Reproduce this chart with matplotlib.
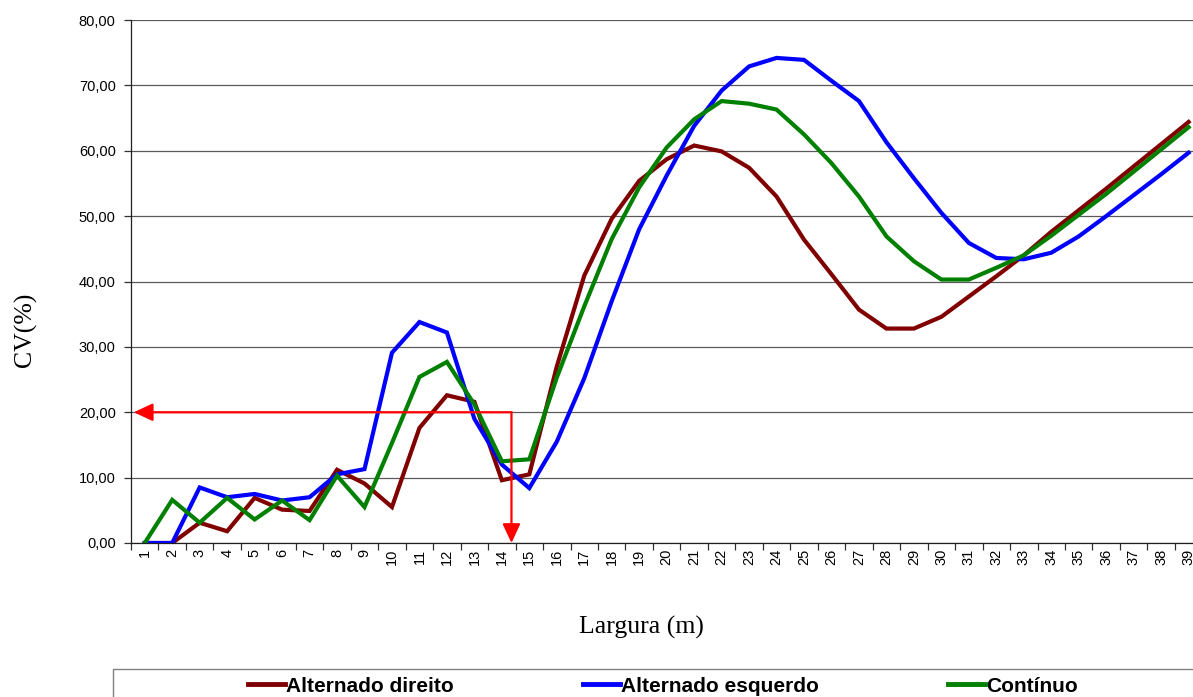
import matplotlib
matplotlib.use("Agg")
import matplotlib.pyplot as plt
from matplotlib.patches import Rectangle
from matplotlib.ticker import FuncFormatter, FixedLocator, NullFormatter

# ---- data ----
largura = list(range(1, 40))
alternado_direito = [0, 0, 3.1, 1.8, 6.9, 5.1, 4.9, 11.2, 9.1, 5.5,
                     17.6, 22.6, 21.6, 9.6, 10.5, 27.0, 40.9, 49.6, 55.4, 58.7,
                     60.8, 59.9, 57.4, 53.0, 46.4, 41.1, 35.7, 32.8, 32.8, 34.6,
                     37.7, 40.8, 44.0, 47.6, 50.9, 54.2, 57.6, 61.0, 64.4]
alternado_esquerdo = [0, 0, 8.5, 7.0, 7.5, 6.5, 7.0, 10.5, 11.3, 29.1,
                      33.8, 32.2, 19.0, 12.0, 8.4, 15.5, 25.2, 37.0, 48.0, 56.2,
                      63.8, 69.2, 72.9, 74.2, 73.9, 70.7, 67.6, 61.3, 55.8, 50.5,
                      45.9, 43.6, 43.4, 44.4, 46.9, 50.0, 53.2, 56.4, 59.7]
continuo = [0, 6.6, 3.1, 6.9, 3.6, 6.5, 3.5, 10.3, 5.5, 15.3,
            25.4, 27.7, 21.2, 12.5, 12.8, 25.3, 36.2, 46.5, 54.4, 60.5,
            64.8, 67.6, 67.2, 66.3, 62.5, 58.1, 53.0, 46.9, 43.1, 40.3,
            40.3, 42.1, 44.0, 47.0, 50.2, 53.4, 56.8, 60.2, 63.6]
series_names = ["Alternado direito", "Alternado esquerdo", "Contínuo"]
series_colors = ["#800000", "#0000FF", "#008000"]
y_ticks = [0, 10, 20, 30, 40, 50, 60, 70, 80]
threshold_cv = 20
threshold_x = 14.35

W, H = 1193, 697
fig = plt.figure(figsize=(W / 100, H / 100), dpi=100)

def fx(px):
    return px / W

def fy(py):
    return 1 - py / H

ax_left, ax_top, ax_bottom = 131, 20, 543
cat_w = 27.47
ax_right = ax_left + cat_w * len(largura)
ax = fig.add_axes([fx(ax_left), fy(ax_bottom), (ax_right - ax_left) / W, (ax_bottom - ax_top) / H])

for vals, name, col in zip([alternado_direito, alternado_esquerdo, continuo], series_names, series_colors):
    ax.plot(largura, vals, color=col, lw=3.0, label=name, solid_joinstyle="miter", zorder=3)

ax.set_xlim(0.5, len(largura) + 0.5)
ax.set_ylim(0, 80)

# gridlines
ax.set_yticks(y_ticks)
ax.yaxis.grid(True, color="#5a5a5a", lw=0.9)
ax.set_axisbelow(True)
ax.yaxis.set_major_formatter(FuncFormatter(lambda v, p: f"{v:.2f}".replace(".", ",")))
ax.tick_params(axis="y", direction="out", length=5, width=0.9, color="#303030",
               labelsize=10.5, pad=6)

# x ticks at boundaries, labels at centers
ax.xaxis.set_major_locator(FixedLocator([k + 0.5 for k in range(0, len(largura) + 1)]))
ax.xaxis.set_major_formatter(NullFormatter())
ax.xaxis.set_minor_locator(FixedLocator(largura))
ax.set_xticklabels([str(v) for v in largura], minor=True, rotation=90)
ax.tick_params(axis="x", which="major", direction="out", length=5, width=0.9, color="#303030")
ax.tick_params(axis="x", which="minor", length=0, labelsize=10.5, pad=4)

for s in ["top", "right"]:
    ax.spines[s].set_visible(False)
ax.spines["left"].set_color("#202020")
ax.spines["bottom"].set_color("#202020")
ax.spines["left"].set_linewidth(0.9)
ax.spines["bottom"].set_linewidth(0.9)

for lab in ax.get_yticklabels() + ax.get_xticklabels(minor=True):
    lab.set_fontfamily(["Liberation Sans", "DejaVu Sans"])

# red arrows
arrow_kw = dict(arrowstyle="-|>,head_length=0.58,head_width=0.27", color="#FF0000",
                lw=1.6, mutation_scale=20, shrinkA=0, shrinkB=0)
ax.annotate("", xy=(0.6, threshold_cv), xytext=(threshold_x, threshold_cv),
            arrowprops=arrow_kw, zorder=5, annotation_clip=False)
ax.annotate("", xy=(threshold_x, 0), xytext=(threshold_x, threshold_cv),
            arrowprops=arrow_kw, zorder=5, annotation_clip=False)

# axis labels
fig.text(fx(641), fy(627), "Largura (m)", ha="center", va="center",
         fontsize=18.5, family=["Liberation Serif", "DejaVu Serif"])
fig.text(fx(25), fy(330), "CV(%)", ha="center", va="center", rotation=90,
         fontsize=18.5, family=["Liberation Serif", "DejaVu Serif"])

# legend box
fig.patches.append(Rectangle((fx(113), fy(740)), fx(1230 - 113), (740 - 669) / H,
                             transform=fig.transFigure, fill=False,
                             edgecolor="#808080", lw=1.0))
handles, labels = ax.get_legend_handles_labels()
leg = fig.legend(handles, labels, ncol=3, loc="center",
                 bbox_to_anchor=(fx(663), fy(686)), frameon=False,
                 prop={"family": ["Liberation Sans", "DejaVu Sans"], "weight": "bold", "size": 15},
                 handlelength=1.78, handletextpad=0.05, columnspacing=6.2,
                 borderpad=0, borderaxespad=0)
for l in leg.get_lines():
    l.set_linewidth(3.5)

fig.savefig("out.png", dpi=100)
